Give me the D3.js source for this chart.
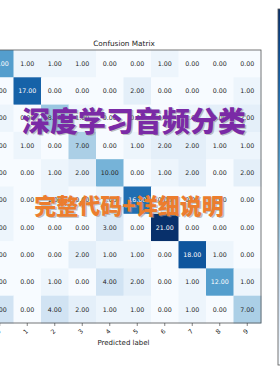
<!DOCTYPE html>
<html>
<head>
<meta charset="utf-8">
<script src="https://cdn.jsdelivr.net/npm/d3@7"></script>
<style>
  html, body { margin: 0; padding: 0; background: #fff; overflow: hidden; }
  svg { display: block; font-family: "DejaVu Sans", sans-serif; }
</style>
</head>
<body>
<div class="chart"></div>
<script>
// chart size
const WIDTH = 280;
const HEIGHT = 380;

// class labels
const labels = ["0", "1", "2", "3", "4", "5", "6", "7", "8", "9"];

// confusion matrix rows (true label)
const row0 = [12, 1, 1, 1, 0, 0, 1, 0, 0, 0];
const row1 = [0, 17, 0, 0, 0, 2, 0, 0, 0, 1];
const row2 = [1, 0, 8, 1, 0, 0, 0, 1, 2, 2];
const row3 = [0, 1, 0, 7, 0, 1, 2, 2, 1, 1];
const row4 = [0, 0, 1, 2, 10, 0, 1, 2, 0, 2];
const row5 = [1, 0, 1, 0, 1, 16, 0, 0, 0, 0];
const row6 = [1, 0, 0, 0, 3, 0, 21, 0, 0, 0];
const row7 = [0, 0, 0, 2, 1, 1, 0, 18, 1, 0];
const row8 = [0, 0, 1, 0, 4, 2, 0, 1, 12, 1];
const row9 = [4, 0, 4, 2, 1, 1, 0, 1, 0, 7];
const rows = [row0, row1, row2, row3, row4, row5, row6, row7, row8, row9];

// overlay captions
const caption1 = "深度学习音频分类";
const caption2 = "完整代码+详细说明";

// flatten into cells
const cells = [];
rows.forEach((r, i) => r.forEach((v, j) => cells.push({ row: i, col: j, value: v })));

const maxVal = d3.max(cells, (d) => d.value);

const svg = d3
  .select(".chart")
  .append("svg")
  .attr("width", WIDTH)
  .attr("height", HEIGHT);

// matrix area
const x = d3.scaleBand().domain(labels).range([-14, 261]);
const y = d3.scaleBand().domain(labels).range([50, 323]);
const color = d3.scaleSequential(d3.interpolateBlues).domain([0, maxVal]);

// cells
svg
  .append("g")
  .selectAll("rect")
  .data(cells)
  .enter()
  .append("rect")
  .attr("x", (d) => x(labels[d.col]))
  .attr("y", (d) => y(labels[d.row]))
  .attr("width", x.bandwidth() + 0.5)
  .attr("height", y.bandwidth() + 0.5)
  .attr("fill", (d) => color(d.value));

// cell values, white on dark cells
svg
  .append("g")
  .selectAll("text")
  .data(cells)
  .enter()
  .append("text")
  .attr("x", (d) => x(labels[d.col]) + x.bandwidth() / 2)
  .attr("y", (d) => y(labels[d.row]) + y.bandwidth() / 2)
  .attr("dy", "0.35em")
  .attr("text-anchor", "middle")
  .attr("font-size", 6.3)
  .attr("fill", (d) => (d.value > maxVal / 2 ? "#fff" : "#262626"))
  .text((d) => d.value.toFixed(2));

// frame
svg
  .append("rect")
  .attr("x", -14)
  .attr("y", 50)
  .attr("width", 275)
  .attr("height", 273)
  .attr("fill", "none")
  .attr("stroke", "#555")
  .attr("stroke-width", 0.8);

// bottom axis with rotated labels
const xAxis = svg
  .append("g")
  .attr("transform", "translate(0,323)")
  .call(d3.axisBottom(x).tickSize(3).tickSizeOuter(0));
xAxis.select(".domain").remove();
xAxis.selectAll("line").attr("stroke", "#333").attr("stroke-width", 0.6);
xAxis
  .selectAll("text")
  .attr("font-size", 6.3)
  .attr("font-family", "DejaVu Sans")
  .attr("fill", "#222")
  .attr("y", 0)
  .attr("dy", 0)
  .attr("text-anchor", "middle")
  .attr("transform", "translate(0,10) rotate(-45)");

// left axis (mostly off screen)
const yAxis = svg
  .append("g")
  .attr("transform", "translate(-14,0)")
  .call(d3.axisLeft(y).tickSize(3).tickSizeOuter(0));
yAxis.select(".domain").remove();

// axis title and chart title
svg
  .append("text")
  .attr("x", 123.5)
  .attr("y", 345)
  .attr("text-anchor", "middle")
  .attr("font-size", 7)
  .attr("fill", "#222")
  .text("Predicted label");

svg
  .append("text")
  .attr("x", 124)
  .attr("y", 46)
  .attr("text-anchor", "middle")
  .attr("font-size", 7.3)
  .attr("fill", "#222")
  .text("Confusion Matrix");

// colorbar at the right edge
const defs = svg.append("defs");
const grad = defs
  .append("linearGradient")
  .attr("id", "cbar")
  .attr("x1", 0)
  .attr("y1", 1)
  .attr("x2", 0)
  .attr("y2", 0);
d3.range(0, 1.01, 0.1).forEach((t) => {
  grad
    .append("stop")
    .attr("offset", t)
    .attr("stop-color", color(t * maxVal));
});
svg
  .append("rect")
  .attr("x", 278)
  .attr("y", 9)
  .attr("width", 14)
  .attr("height", 356)
  .attr("fill", "url(#cbar)")
  .attr("stroke", "#555")
  .attr("stroke-width", 0.8);

// overlay captions with a soft shadow
function caption(text, cx, cy, size, fill) {
  const g = svg.append("g").attr("font-family", "Noto Sans CJK SC").attr("font-weight", 900);
  g.append("text")
    .attr("x", cx + 1.5)
    .attr("y", cy + 1.5)
    .attr("text-anchor", "middle")
    .attr("dy", "0.35em")
    .attr("font-size", size)
    .attr("fill", "#9a9a9a")
    .attr("opacity", 0.6)
    .text(text);
  g.append("text")
    .attr("x", cx)
    .attr("y", cy)
    .attr("text-anchor", "middle")
    .attr("dy", "0.35em")
    .attr("font-size", size)
    .attr("fill", fill)
    .text(text);
}
caption(caption1, 134, 122, 28, "#7a2aa6");
caption(caption2, 129, 206, 22, "#ec7d2e");
</script>
</body>
</html>
